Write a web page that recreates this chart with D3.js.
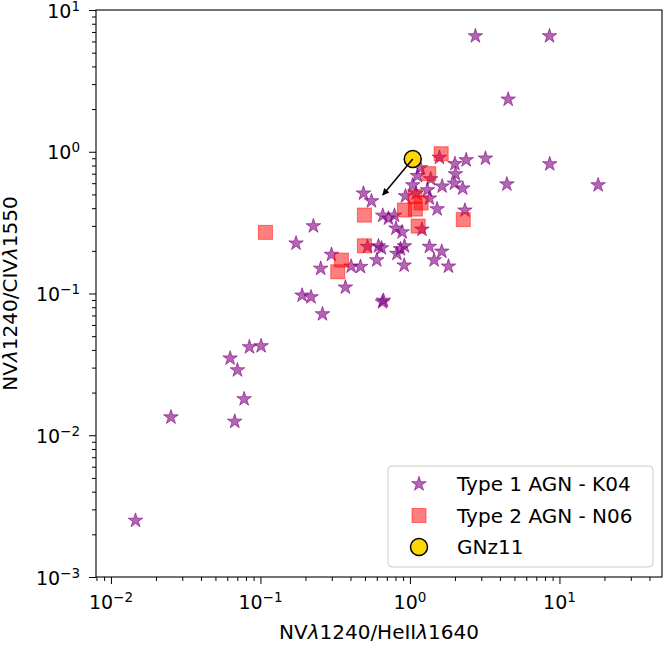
<!DOCTYPE html>
<html>
<head>
<meta charset="utf-8">
<script src="https://cdn.jsdelivr.net/npm/d3@7/dist/d3.min.js"></script>
<style>
body { margin: 0; background: #fff; }
svg { font-family: "DejaVu Sans", sans-serif; }
</style>
</head>
<body>
<div id="chart"></div>
<script>
// Type 1 AGN (K04)
var type1X = [0.0146, 0.0252, 0.0627, 0.0702, 0.0844, 0.101, 0.0778, 0.0673, 0.190, 0.218,
    0.260, 0.370, 0.665, 0.655, 0.489, 0.553, 0.226, 0.173, 0.658, 0.718,
    0.788, 0.806, 0.887, 1.203, 0.616, 0.645, 0.520, 0.864, 0.919, 0.818,
    0.600, 0.2985, 0.253, 0.404, 0.467, 0.915, 1.35, 1.632, 1.452, 1.81,
    2.74, 8.58, 4.54, 8.61, 18.15, 4.45, 3.20, 2.377, 2.0, 2.015,
    1.985, 2.255, 1.642, 1.575, 1.377, 1.31, 1.122, 1.044, 0.933, 1.35,
    1.52, 2.333, 1.175, 1.1];
var type1Y = [0.0025, 0.0134, 0.0349, 0.0288, 0.0419, 0.0426, 0.018, 0.0125, 0.097, 0.0944,
    0.0716, 0.1105, 0.0892, 0.087, 0.509, 0.449, 0.299, 0.226, 0.355, 0.339,
    0.355, 0.288, 0.271, 0.283, 0.216, 0.209, 0.214, 0.206, 0.216, 0.191,
    0.172, 0.188, 0.150, 0.1554, 0.1544, 0.158, 0.214, 0.198, 0.172, 0.1554,
    6.55, 6.55, 2.34, 0.819, 0.582, 0.590, 0.898, 0.874, 0.822, 0.696,
    0.598, 0.552, 0.571, 0.910, 0.642, 0.537, 0.676, 0.582, 0.487, 0.469,
    0.394, 0.386, 0.767, 0.509];

// Type 2 AGN (N06)
var type2X = [0.108, 0.496, 0.496, 0.348, 0.329, 1.617, 1.336, 1.08, 1.188, 0.919, 1.088, 2.273, 1.135];
var type2Y = [0.270, 0.3575, 0.217, 0.172, 0.1423, 0.968, 0.70, 0.483, 0.435, 0.388, 0.394, 0.332, 0.299];

// GNz11 and where its arrow points
var gnzX = [1.044];
var gnzY = [0.888];
var arrowTipX = [0.658];
var arrowTipY = [0.495];

var xTickExps = [-2, -1, 0, 1];
var yTickExps = [-3, -2, -1, 0, 1];
var legendLabels = ['Type 1 AGN - K04', 'Type 2 AGN - N06', 'GNz11'];

var width = 665, height = 646;
var plot = {left: 96, right: 662, top: 10, bottom: 577};

var svg = d3.select('#chart').append('svg')
    .attr('width', width)
    .attr('height', height);

var x = d3.scaleLog()
    .domain([Math.pow(10, -2.1), Math.pow(10, 1.686)])
    .range([plot.left, plot.right]);
var y = d3.scaleLog()
    .domain([1e-3, 1e1])
    .range([plot.bottom, plot.top]);

function minorTicks(scale) {
    var d = scale.domain(), out = [];
    for (var k = -4; k <= 2; k++) {
        for (var m = 2; m <= 9; m++) {
            var v = m * Math.pow(10, k);
            if (v >= d[0] && v <= d[1]) out.push(v);
        }
    }
    return out;
}

var xMajor = xTickExps.map(function(e) { return Math.pow(10, e); });
var yMajor = yTickExps.map(function(e) { return Math.pow(10, e); });

// axes: major + minor tick marks
function tickGroup(axis, transform) {
    var g = svg.append('g').attr('transform', transform).call(axis);
    g.select('.domain').remove();
    g.selectAll('.tick line').attr('stroke', '#000').attr('stroke-width', 1);
    g.selectAll('.tick text').remove();
    return g;
}

tickGroup(d3.axisBottom(x).tickValues(xMajor).tickFormat('').tickSize(7), 'translate(0,' + plot.bottom + ')');
tickGroup(d3.axisBottom(x).tickValues(minorTicks(x)).tickFormat('').tickSize(4), 'translate(0,' + plot.bottom + ')');
tickGroup(d3.axisLeft(y).tickValues(yMajor).tickFormat('').tickSize(7), 'translate(' + plot.left + ',0)');
tickGroup(d3.axisLeft(y).tickValues(minorTicks(y)).tickFormat('').tickSize(4), 'translate(' + plot.left + ',0)');

function expLabel(sel, e) {
    sel.append('tspan').text('10');
    sel.append('tspan')
        .attr('dy', -7)
        .attr('font-size', 13.5)
        .text(e < 0 ? '\u2212' + (-e) : String(e));
}

xTickExps.forEach(function(e) {
    var t = svg.append('text')
        .attr('x', x(Math.pow(10, e)))
        .attr('y', 609)
        .attr('text-anchor', 'middle')
        .attr('font-size', 19);
    expLabel(t, e);
});

yTickExps.forEach(function(e) {
    var t = svg.append('text')
        .attr('x', 80)
        .attr('y', y(Math.pow(10, e)) + 7.5)
        .attr('text-anchor', 'end')
        .attr('font-size', 19);
    expLabel(t, e);
});

// axis titles
var xl = svg.append('text')
    .attr('x', (plot.left + plot.right) / 2)
    .attr('y', 639)
    .attr('text-anchor', 'middle')
    .attr('font-size', 20);
xl.append('tspan').text('NV');
xl.append('tspan').attr('font-style', 'italic').text('\u03bb');
xl.append('tspan').text('1240/HeII');
xl.append('tspan').attr('font-style', 'italic').text('\u03bb');
xl.append('tspan').text('1640');

var yl = svg.append('text')
    .attr('transform', 'translate(17,' + (plot.top + plot.bottom) / 2 + ') rotate(-90)')
    .attr('text-anchor', 'middle')
    .attr('font-size', 20);
yl.append('tspan').text('NV');
yl.append('tspan').attr('font-style', 'italic').text('\u03bb');
yl.append('tspan').text('1240/CIV');
yl.append('tspan').attr('font-style', 'italic').text('\u03bb');
yl.append('tspan').text('1550');

// markers
var star = d3.symbol().type(d3.symbolStar).size(66);

function styleStar(sel) {
    sel.attr('d', star)
        .attr('fill', '#800080').attr('fill-opacity', 0.6)
        .attr('stroke', '#800080').attr('stroke-opacity', 0.6)
        .attr('stroke-width', 1);
}
function styleSquare(sel) {
    sel.attr('width', 14).attr('height', 14)
        .attr('fill', '#ff0000').attr('fill-opacity', 0.5)
        .attr('stroke', '#ff0000').attr('stroke-opacity', 0.5)
        .attr('stroke-width', 1);
}
function styleCircle(sel) {
    sel.attr('r', 8.5)
        .attr('fill', '#ffd700')
        .attr('stroke', '#000').attr('stroke-width', 1.5);
}

svg.append('g').selectAll('path')
    .data(d3.range(type1X.length))
    .enter().append('path')
    .attr('transform', function(i) { return 'translate(' + x(type1X[i]) + ',' + y(type1Y[i]) + ')'; })
    .call(styleStar);

svg.append('g').selectAll('rect')
    .data(d3.range(type2X.length))
    .enter().append('rect')
    .attr('x', function(i) { return x(type2X[i]) - 7; })
    .attr('y', function(i) { return y(type2Y[i]) - 7; })
    .call(styleSquare);

svg.append('g').selectAll('circle')
    .data(d3.range(gnzX.length))
    .enter().append('circle')
    .attr('cx', function(i) { return x(gnzX[i]); })
    .attr('cy', function(i) { return y(gnzY[i]); })
    .call(styleCircle);

// arrow
svg.append('defs').append('marker')
    .attr('id', 'head')
    .attr('viewBox', '0 0 10 10')
    .attr('refX', 9).attr('refY', 5)
    .attr('markerWidth', 9).attr('markerHeight', 7)
    .attr('markerUnits', 'userSpaceOnUse')
    .attr('orient', 'auto')
    .append('path')
    .attr('d', 'M0,0L10,5L0,10Z')
    .attr('fill', '#000');

svg.append('line')
    .attr('x1', x(gnzX[0])).attr('y1', y(gnzY[0]))
    .attr('x2', x(arrowTipX[0])).attr('y2', y(arrowTipY[0]))
    .attr('stroke', '#000').attr('stroke-width', 1.5)
    .attr('marker-end', 'url(#head)');

// frame
svg.append('rect')
    .attr('x', plot.left).attr('y', plot.top)
    .attr('width', plot.right - plot.left).attr('height', plot.bottom - plot.top)
    .attr('fill', 'none').attr('stroke', '#000').attr('stroke-width', 1.1);

// legend
var lg = svg.append('g');
lg.append('rect')
    .attr('x', 388).attr('y', 466).attr('width', 265).attr('height', 101)
    .attr('rx', 4)
    .attr('fill', '#fff').attr('fill-opacity', 0.8)
    .attr('stroke', '#cccccc').attr('stroke-width', 1);

var rowY = [484, 515.5, 547];
lg.append('path').attr('transform', 'translate(419,' + rowY[0] + ')').call(styleStar);
lg.append('rect').attr('x', 412).attr('y', rowY[1] - 7).call(styleSquare);
lg.append('circle').attr('cx', 419).attr('cy', rowY[2]).call(styleCircle);

legendLabels.forEach(function(label, i) {
    lg.append('text')
        .attr('x', 457)
        .attr('y', rowY[i] + 7)
        .attr('font-size', 20)
        .text(label);
});
</script>
</body>
</html>
